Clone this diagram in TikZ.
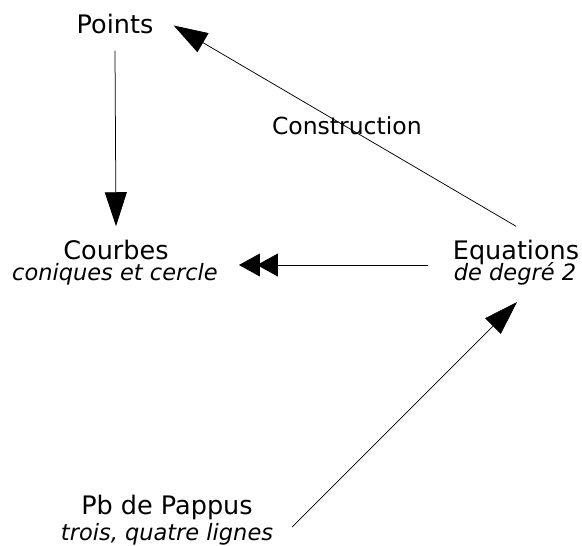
\documentclass[tikz,border=0pt]{standalone}
\usepackage{fontspec}
\setmainfont{DejaVu Sans}
\usetikzlibrary{arrows.meta}
\tikzset{
  main/.style={inner sep=0pt, anchor=base, font=\fontsize{25.5}{30}\selectfont},
  sub/.style={inner sep=0pt, anchor=base, font=\fontsize{22.5}{27}\selectfont\itshape},
  lbl/.style={inner sep=0pt, fill=none, font=\fontsize{23.5}{28}\selectfont}
}

\begin{document}
\begin{tikzpicture}[x=1pt,y=-1pt,
% big filled heads on every line
-{Triangle[length=34pt,width=22pt]},line width=0.75pt]

\useasboundingbox (0,0) rectangle (582,546);

\node[main] (points) at (115,33) {Points};
\node[main] (courbes) at (116,259) {Courbes};
\node[sub] (courbesSub) at (115,280) {coniques et cercle};
\node[main] (equations) at (516,259) {Equations};
\node[sub] (equationsSub) at (515,280) {de degré 2};
\node[main] (pappus) at (167,514) {Pb de Pappus};
\node[sub] (pappusSub) at (167,540) {trois, quatre lignes};

\draw ([yshift=-17pt]points.south) -- ([yshift=13pt]courbes.north);
\draw ([yshift=13pt]equations.north) -- ([xshift=20pt,yshift=-2pt]points.east)
  node[lbl,midway,xshift=2pt] (construction) {Construction};
% double head towards the curves
\draw[-{Triangle[length=21pt,width=23pt,sep=-3pt]Triangle[length=21pt,width=23pt]}]
  ([xshift=-25pt,yshift=-6pt]equations.base west) -- ([xshift=70pt,yshift=-6pt]courbes.base east);
\draw ([xshift=39pt,yshift=-13pt]pappus.base east) -- ([xshift=2pt,yshift=-17pt]equationsSub.south);
\end{tikzpicture}
\end{document}
